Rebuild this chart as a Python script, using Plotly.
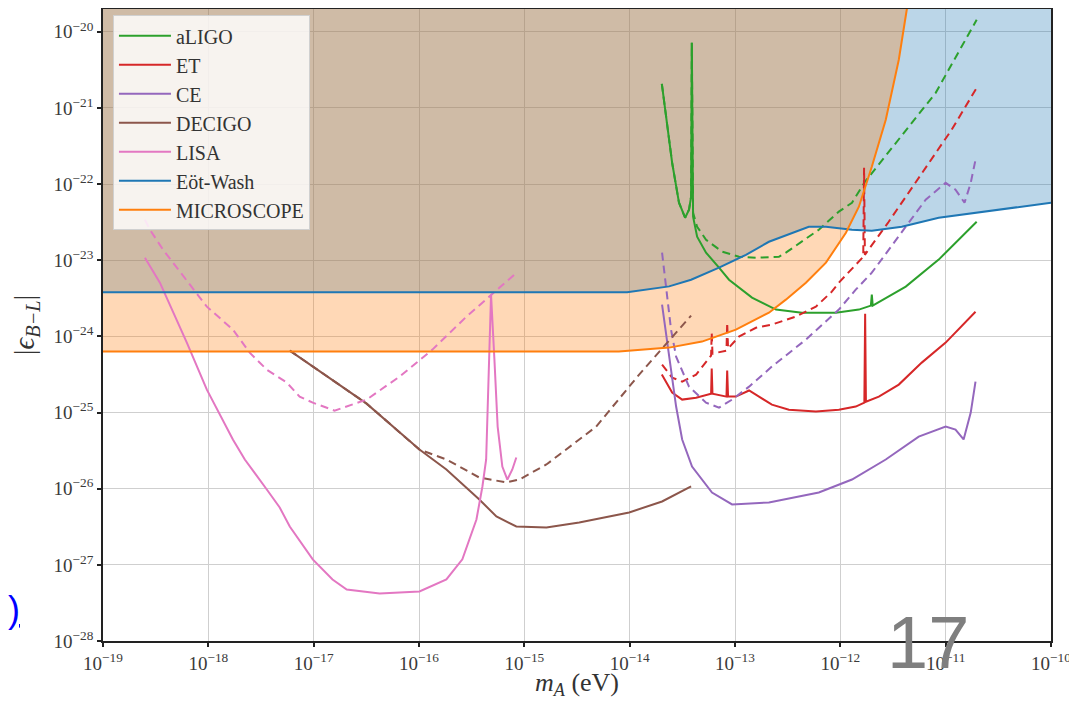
import plotly.graph_objects as go

# ---------------- data (m_A in eV, |eps_B-L|) ----------------
EW_X = [1e-19, 9.46e-15, 2.37e-14, 3.83e-14, 7.05e-14, 1.27e-13, 2.10e-13, 3.47e-13, 5.02e-13,
        7.30e-13, 1.29e-12, 1.99e-12, 3.83e-12, 8.59e-12, 2.39e-11, 4.92e-11, 1e-10]
EW_Y = [3.79e-24, 3.79e-24, 4.54e-24, 5.56e-24, 8.0e-24, 1.18e-23, 1.75e-23, 2.30e-23, 2.76e-23,
        2.76e-23, 2.52e-23, 2.44e-23, 2.76e-23, 3.62e-23, 4.35e-23, 5.05e-23, 5.70e-23]

MS_X = [1e-19, 7.9e-15, 2.37e-14, 4.86e-14, 1.02e-13, 2.10e-13, 3.04e-13, 4.71e-13, 7.30e-13,
        1.13e-12, 1.50e-12, 1.99e-12, 2.70e-12, 3.59e-12, 4.27e-12, 4.98e-12]
MS_Y = [6.32e-25, 6.32e-25, 7.13e-25, 8.55e-25, 1.23e-24, 2.05e-24, 3.04e-24, 5.08e-24, 9.31e-24,
        2.30e-23, 5.05e-23, 1.69e-22, 7.0e-22, 4.30e-21, 1.95e-20, 6.5e-20]

LISA_X = [2.50e-19, 3.47e-19, 6.25e-19, 9.68e-19, 1.71e-18, 2.22e-18, 3.59e-18, 4.76e-18, 5.93e-18,
          9.8e-18, 1.51e-17, 2.06e-17, 4.23e-17, 1.01e-16, 1.82e-16, 2.58e-16, 3.51e-16, 4.0e-16,
          4.34e-16, 4.66e-16, 4.83e-16, 5.2e-16, 5.58e-16, 6.18e-16, 6.9e-16, 7.69e-16, 8.39e-16]
LISA_Y = [1.08e-23, 5.08e-24, 8.3e-25, 2.0e-25, 4.43e-26, 2.42e-26, 9.77e-27, 5.66e-27, 3.19e-27,
          1.18e-27, 6.43e-28, 4.75e-28, 4.22e-28, 4.48e-28, 6.43e-28, 1.18e-27, 3.94e-27, 1.07e-26,
          2.42e-26, 4.97e-25, 3.54e-24, 4.97e-25, 6.55e-26, 1.95e-26, 1.32e-26, 1.79e-26, 2.57e-26]
LISA_D_X = [2.50e-19, 2.79e-19, 3.71e-19, 8.3e-19, 9.68e-19, 1.71e-18, 2.47e-18, 3.59e-18, 5.55e-18,
            7.36e-18, 9.8e-18, 1.58e-17, 3.18e-17, 6.53e-17, 1.34e-16, 2.82e-16, 8.04e-16]
LISA_D_Y = [3.41e-23, 2.52e-23, 1.38e-23, 3.33e-24, 2.46e-24, 1.23e-24, 6.12e-25, 3.66e-25, 2.48e-25,
            1.62e-25, 1.35e-25, 1.06e-25, 1.48e-25, 2.96e-25, 6.71e-25, 1.82e-24, 6.47e-24]

DEC_X = [5.93e-18, 1.51e-17, 3.18e-17, 1.01e-16, 1.82e-16, 3.74e-16, 5.43e-16, 8.39e-16, 1.62e-15,
         3.32e-15, 9.89e-15, 2.03e-14, 3.83e-14]
DEC_Y = [6.52e-25, 2.63e-25, 1.31e-25, 3.27e-26, 1.79e-26, 7.21e-27, 4.32e-27, 3.19e-27, 3.10e-27,
         3.60e-27, 4.88e-27, 6.79e-27, 1.07e-26]
DEC_D_X = [5.93e-18, 1.51e-17, 3.18e-17, 1.01e-16, 1.82e-16, 3.74e-16, 6.75e-16, 8.97e-16, 1.62e-15,
           3.32e-15, 4.81e-15, 1.23e-14, 3.83e-14]
DEC_D_Y = [6.52e-25, 2.63e-25, 1.31e-25, 3.27e-26, 2.42e-26, 1.40e-26, 1.21e-26, 1.32e-26, 2.08e-26,
           4.43e-26, 6.55e-26, 3.15e-25, 1.88e-24]

LIGO_X = [2.02e-14, 2.53e-14, 2.94e-14, 3.36e-14, 3.66e-14, 3.83e-14, 3.89e-14, 3.95e-14, 4.0e-14,
          4.37e-14, 5.31e-14, 7.05e-14, 8.77e-14, 1.45e-13, 2.45e-13, 4.32e-13, 9.06e-13, 1.50e-12,
          1.95e-12, 1.99e-12, 2.03e-12, 4.18e-12, 8.59e-12, 1.97e-11]
LIGO_Y = [2.08e-21, 1.91e-22, 5.70e-23, 3.62e-23, 4.61e-23, 6.84e-23, 7.18e-21, 6.24e-23, 3.73e-23,
          2.04e-23, 1.26e-23, 8.0e-24, 5.56e-24, 3.23e-24, 2.25e-24, 2.05e-24, 2.05e-24, 2.25e-24,
          2.54e-24, 3.54e-24, 2.54e-24, 4.51e-24, 1.02e-23, 3.21e-23]
LIGO_D_X = [2.02e-14, 2.53e-14, 2.94e-14, 3.36e-14, 3.66e-14, 3.83e-14, 3.89e-14, 3.95e-14, 4.0e-14,
            4.37e-14, 5.31e-14, 7.54e-14, 1.09e-13, 1.58e-13, 2.61e-13, 3.04e-13, 6.25e-13, 9.68e-13,
            1.29e-12, 1.71e-12, 3.59e-12, 8.04e-12, 1.97e-11]
LIGO_D_Y = [2.08e-21, 1.91e-22, 5.70e-23, 3.62e-23, 4.61e-23, 6.84e-23, 7.18e-21, 6.24e-23, 4.2e-23,
            2.76e-23, 1.86e-23, 1.30e-23, 1.11e-23, 1.08e-23, 1.11e-23, 1.26e-23, 2.52e-23, 4.35e-23,
            5.70e-23, 1.07e-22, 3.83e-22, 1.58e-21, 1.44e-20]

ET_X = [2.02e-14, 2.53e-14, 3.15e-14, 4.27e-14, 5.93e-14, 6.01e-14, 6.11e-14, 8.30e-14, 8.43e-14,
        8.59e-14, 1.02e-13, 1.36e-13, 1.69e-13, 2.24e-13, 3.25e-13, 5.86e-13, 9.68e-13, 1.40e-12,
        1.69e-12, 1.72e-12, 1.75e-12, 2.32e-12, 3.59e-12, 5.93e-12, 1.0e-11, 1.92e-11]
ET_Y = [3.15e-25, 1.83e-25, 1.48e-25, 1.57e-25, 1.77e-25, 3.78e-25, 1.77e-25, 1.62e-25, 3.56e-25,
        1.62e-25, 1.62e-25, 1.95e-25, 1.62e-25, 1.27e-25, 1.09e-25, 1.03e-25, 1.09e-25, 1.20e-25,
        1.35e-25, 1.99e-24, 1.39e-25, 1.62e-25, 2.33e-25, 4.53e-25, 8.3e-25, 2.11e-24]
ET_D_X = [2.03e-14, 2.53e-14, 3.15e-14, 4.27e-14, 5.93e-14, 6.01e-14, 6.11e-14, 8.30e-14, 8.43e-14,
          8.59e-14, 1.09e-13, 1.58e-13, 2.24e-13, 3.78e-13, 5.86e-13, 8.30e-13, 9.68e-13, 1.65e-12,
          1.68e-12, 1.71e-12, 2.88e-12, 5.55e-12, 1.14e-11, 1.97e-11]
ET_D_Y = [4.27e-25, 2.88e-25, 2.55e-25, 3.15e-25, 5.60e-25, 1.12e-24, 5.94e-25, 6.52e-25, 1.52e-24,
          6.92e-25, 9.93e-25, 1.30e-24, 1.43e-24, 1.82e-24, 2.46e-24, 3.87e-24, 5.08e-24, 1.11e-23,
          1.64e-22, 1.18e-23, 3.21e-23, 1.21e-22, 5.18e-22, 1.84e-21]

CE_X = [2.03e-14, 2.37e-14, 2.76e-14, 3.15e-14, 3.91e-14, 6.05e-14, 9.38e-14, 2.10e-13, 6.25e-13,
        1.29e-12, 2.70e-12, 5.55e-12, 1.0e-11, 1.24e-11, 1.48e-11, 1.73e-11, 1.92e-11]
CE_Y = [2.61e-24, 5.43e-25, 1.20e-25, 4.43e-26, 1.95e-26, 8.91e-27, 6.21e-27, 6.59e-27, 8.91e-27,
        1.32e-26, 2.42e-26, 4.84e-26, 6.55e-26, 5.98e-26, 4.43e-26, 1.0e-25, 2.55e-25]
CE_D_X = [2.03e-14, 2.22e-14, 2.47e-14, 2.76e-14, 3.66e-14, 5.31e-14, 7.05e-14, 9.38e-14, 1.36e-13,
          2.24e-13, 4.71e-13, 9.68e-13, 1.40e-12, 1.99e-12, 4.18e-12, 6.46e-12, 1.0e-11, 1.24e-11,
          1.51e-11, 1.73e-11, 1.92e-11]
CE_D_Y = [1.26e-23, 4.11e-24, 1.23e-24, 5.43e-25, 2.19e-25, 1.35e-25, 1.16e-25, 1.48e-25, 2.19e-25,
          4.02e-25, 9.08e-25, 2.25e-24, 4.11e-24, 6.87e-24, 2.76e-23, 6.24e-23, 1.04e-22, 8.45e-23,
          5.70e-23, 1.04e-22, 2.09e-22]

X_TICKS = [1e-19, 1e-18, 1e-17, 1e-16, 1e-15, 1e-14, 1e-13, 1e-12, 1e-11, 1e-10]
X_TICK_TEXT = ["10<sup>−19</sup>", "10<sup>−18</sup>", "10<sup>−17</sup>", "10<sup>−16</sup>",
               "10<sup>−15</sup>", "10<sup>−14</sup>", "10<sup>−13</sup>", "10<sup>−12</sup>",
               "10<sup>−11</sup>", "10<sup>−10</sup>"]
Y_TICKS = [1e-28, 1e-27, 1e-26, 1e-25, 1e-24, 1e-23, 1e-22, 1e-21, 1e-20]
Y_TICK_TEXT = ["10<sup>−28</sup>", "10<sup>−27</sup>", "10<sup>−26</sup>", "10<sup>−25</sup>",
               "10<sup>−24</sup>", "10<sup>−23</sup>", "10<sup>−22</sup>", "10<sup>−21</sup>",
               "10<sup>−20</sup>"]

FILL_TOP = 1e-19  # above the visible range; closes the exclusion polygons

C_LIGO, C_ET, C_CE, C_DEC, C_LISA, C_EW, C_MS = (
    "#2ca02c", "#d62728", "#9467bd", "#8c564b", "#e377c2", "#1f77b4", "#ff7f0e")
FONT = "Liberation Serif"
DASH = "8px,5px"
LW = 2

fig = go.Figure()

# exclusion regions (blue first, orange on top -> tan overlap)
fig.add_trace(go.Scatter(x=EW_X + [EW_X[-1], EW_X[0]], y=EW_Y + [FILL_TOP, FILL_TOP],
                         fill="toself", fillcolor="rgba(31,119,180,0.3)", mode="none",
                         showlegend=False, hoverinfo="skip"))
fig.add_trace(go.Scatter(x=MS_X + [MS_X[0]], y=MS_Y + [MS_Y[-1]],
                         fill="toself", fillcolor="rgba(255,127,14,0.3)", mode="none",
                         showlegend=False, hoverinfo="skip"))

def add_curve(name, xs, ys, color, dash="solid", legend=True):
    fig.add_trace(go.Scatter(x=xs, y=ys, mode="lines", name=name, legendgroup=name,
                             showlegend=legend, line=dict(color=color, width=LW, dash=dash)))

add_curve("aLIGO", LIGO_X, LIGO_Y, C_LIGO)
add_curve("aLIGO", LIGO_D_X, LIGO_D_Y, C_LIGO, DASH, False)
add_curve("ET", ET_X, ET_Y, C_ET)
add_curve("ET", ET_D_X, ET_D_Y, C_ET, DASH, False)
add_curve("CE", CE_X, CE_Y, C_CE)
add_curve("CE", CE_D_X, CE_D_Y, C_CE, DASH, False)
add_curve("DECIGO", DEC_X, DEC_Y, C_DEC)
add_curve("DECIGO", DEC_D_X, DEC_D_Y, C_DEC, DASH, False)
add_curve("LISA", LISA_X, LISA_Y, C_LISA)
add_curve("LISA", LISA_D_X, LISA_D_Y, C_LISA, DASH, False)
add_curve("Eöt-Wash", EW_X, EW_Y, C_EW)
add_curve("MICROSCOPE", MS_X, MS_Y, C_MS)

axis_common = dict(type="log", showgrid=True, gridcolor="#cfcfcf", gridwidth=1.2,
                   showline=True, linecolor="#222222", linewidth=1.8, mirror=True,
                   ticks="outside", ticklen=4, tickwidth=1.5, tickcolor="#222222",
                   zeroline=False, automargin=False, ticklabeloverflow="allow",
                   tickfont=dict(family=FONT, size=19, color="#3a3a3a"))

fig.update_layout(
    width=1069, height=692,
    margin=dict(l=95, r=26, t=1, b=59),
    paper_bgcolor="white", plot_bgcolor="white",
    font=dict(family=FONT, color="#333333"),
    xaxis=dict(axis_common, range=[-19, -10], tickvals=X_TICKS, ticktext=X_TICK_TEXT,
               title=dict(text="<i>m<sub>A</sub></i> (eV)", font=dict(family=FONT, size=26),
                          standoff=5)),
    yaxis=dict(axis_common, range=[-28, -19.7], tickvals=Y_TICKS, ticktext=Y_TICK_TEXT,
               title=dict(text="|<i>ϵ<sub>B−L</sub></i>|", font=dict(family=FONT, size=29),
                          standoff=10)),
    legend=dict(x=0.0105, y=0.99, xanchor="left", yanchor="top",
                bgcolor="rgba(255,255,255,0.82)", bordercolor="#d0d0d0", borderwidth=1,
                font=dict(family=FONT, size=20, color="#333333"), tracegroupgap=0,
                itemwidth=52),
    annotations=[
        dict(text="17", xref="paper", yref="paper", x=0.870, y=-0.003, xanchor="center",
             yanchor="middle", showarrow=False,
             font=dict(family="Liberation Sans", size=74, color="#7f7f7f")),
        dict(text="<u>)</u>", xref="paper", yref="paper", x=-0.094, y=0.05, xanchor="center",
             yanchor="middle", showarrow=False,
             font=dict(family="Liberation Sans", size=36, color="#0000ff")),
    ],
)

fig.write_html("out.html")
